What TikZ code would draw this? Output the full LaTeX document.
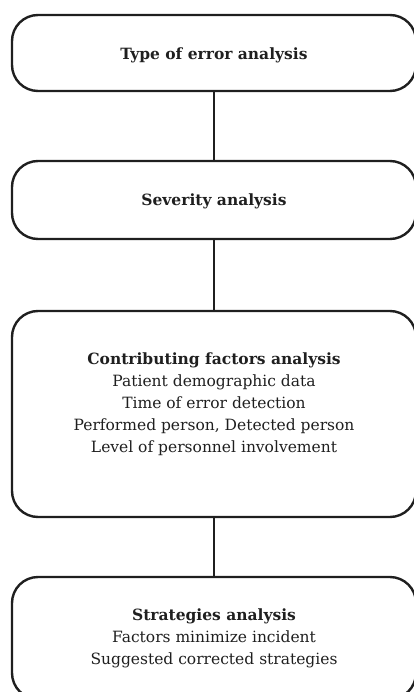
\documentclass[tikz,border=0pt]{standalone}
\usepackage{fontspec}
\setmainfont{DejaVu Serif}
\begin{document}
\begin{tikzpicture}[x=1pt,y=-1pt,
  box/.style={draw=black!88, line width=2.4pt, rounded corners=26pt, inner sep=0pt},
  txt/.style={align=center, font=\fontsize{15.5}{22}\selectfont, text=black!88},
  conn/.style={draw=black!88, line width=2.4pt}]
\useasboundingbox (0,0) rectangle (414,692);
\clip (0,0) rectangle (414,692);
\node[box, minimum width=404pt, minimum height=76pt] (b1) at (214,53) {};
\node[box, minimum width=404pt, minimum height=78pt] (b2) at (214,200) {};
\node[box, minimum width=404pt, minimum height=206pt] (b3) at (214,414) {};
\node[box, minimum width=404pt, minimum height=122pt] (b4) at (214,638) {};
\node[txt] (t1) at (214,55) {\textbf{Type of error analysis}};
\node[txt] (t2) at (214,201) {\textbf{Severity analysis}};
\node[txt] (t3) at (214,404) {\textbf{Contributing factors analysis}\\Patient demographic data\\Time of error detection\\Performed person, Detected person\\Level of personnel involvement};
\node[txt] (t4) at (214,638) {\textbf{Strategies analysis}\\Factors minimize incident\\Suggested corrected strategies};
\draw[conn] (b1.south) -- (b2.north);
\draw[conn] (b2.south) -- (b3.north);
\draw[conn] (b3.south) -- (b4.north);
\end{tikzpicture}
\end{document}
